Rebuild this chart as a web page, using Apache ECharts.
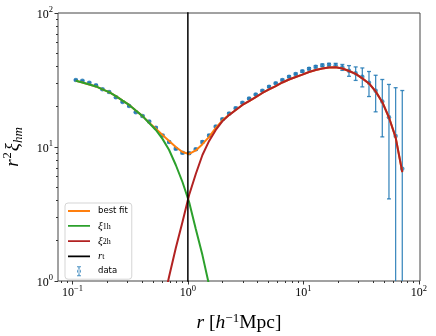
<!DOCTYPE html>
<html>
<head>
<meta charset="utf-8">
<script src="https://cdn.jsdelivr.net/npm/echarts@6/dist/echarts.min.js"></script>
<style>
  html, body { margin: 0; padding: 0; background: #fff; }
  #main { width: 436px; height: 336px; }
</style>
</head>
<body>
<div id="main"></div>
<script>
// bin centres, h^-1 Mpc
var r = [0.107, 0.122, 0.140, 0.160, 0.182, 0.208, 0.238, 0.272, 0.310, 0.354,
         0.405, 0.462, 0.528, 0.603, 0.688, 0.786, 0.898, 1.025, 1.171, 1.337,
         1.528, 1.745, 1.993, 2.276, 2.599, 2.969, 3.390, 3.872, 4.422, 5.050,
         5.768, 6.587, 7.523, 8.592, 9.813, 11.21, 12.80, 14.62, 16.70, 19.07,
         21.78, 24.87, 28.41, 32.44, 37.05, 42.31, 48.33, 55.19, 63.03, 71.99];

// measured r^2 xi_hm and its error
var dataY = [31.6, 31.2, 30.2, 28.9, 27.0, 25.7, 23.5, 21.7, 20.2, 18.2,
             17.0, 15.5, 13.9, 12.2, 10.9, 9.71, 9.06, 8.97, 9.61, 10.9,
             12.2, 14.2, 16.1, 17.8, 19.5, 21.4, 23.0, 24.6, 26.3, 28.2,
             29.9, 31.6, 33.5, 35.1, 36.7, 38.4, 39.7, 40.7, 41.1, 40.7,
             39.3, 37.1, 35.5, 33.5, 30.2, 26.3, 21.9, 16.7, 12.1, 6.89];
var dataErr = [0.3, 0.3, 0.3, 0.3, 0.3, 0.3, 0.3, 0.2, 0.2, 0.2,
               0.2, 0.2, 0.2, 0.2, 0.15, 0.15, 0.15, 0.15, 0.15, 0.2,
               0.2, 0.2, 0.25, 0.25, 0.3, 0.3, 0.3, 0.35, 0.35, 0.4,
               0.4, 0.45, 0.5, 0.5, 0.6, 0.7, 0.8, 0.9, 1.0, 1.4,
               2.0, 3.4, 4.1, 5.4, 6.4, 8.0, 10.0, 12.6, 15.6, 19.5];

// model curves, sampled on the same bins
var bestFit = [31.2, 30.3, 29.3, 28.3, 26.9, 25.7, 24.0, 22.2, 20.6, 18.7,
               17.0, 15.2, 13.7, 12.3, 11.1, 10.0, 9.18, 8.87, 9.42, 10.5,
               11.9, 13.9, 15.8, 17.4, 18.9, 20.6, 22.0, 23.6, 25.3, 26.9,
               28.5, 30.3, 31.9, 33.3, 34.7, 36.3, 37.6, 38.5, 39.2, 39.3,
               38.5, 36.9, 35.1, 32.5, 29.8, 26.0, 21.6, 16.6, 11.8, 6.5];
// one-halo term, bins 0..21
var xi1h = [31.2, 30.3, 29.3, 28.3, 26.9, 25.7, 24.0, 22.2, 20.6, 18.7,
            17.0, 15.1, 13.4, 11.5, 9.5, 7.34, 5.48, 3.89, 2.44, 1.56,
            0.93, 0.5];
// two-halo term, bins 13..49
var xi2hStart = 13;
var xi2h = [0.65, 1.08, 1.76, 2.76, 4.38, 6.29, 8.71, 11.1, 13.4, 15.6,
            17.3, 18.9, 20.6, 22.0, 23.6, 25.3, 26.9, 28.5, 30.3, 31.9,
            33.3, 34.7, 36.3, 37.6, 38.5, 39.2, 39.3, 38.5, 36.9, 35.1,
            32.5, 29.8, 26.0, 21.6, 16.6, 11.8, 6.5];
var rt = 1.0;

var xTicks = [0.1, 1, 10, 100];
var yTicks = [1, 10, 100];
var xMin = 0.075, xMax = 102.5;
var yMin = 1, yMax = 100;

function minorTicks(lo, hi) {
  var out = [];
  for (var d = -3; d <= 3; d++) {
    for (var m = 2; m <= 9; m++) {
      var v = m * Math.pow(10, d);
      if (v > lo && v < hi) out.push(v);
    }
  }
  return out;
}

function pow10Label(v) {
  var e = Math.round(Math.log10(v));
  return '{b|10}{p|' + String(e).replace('-', '\u2212') + '}';
}

var serif = 'Liberation Serif';
var tickRich = {
  b: { fontFamily: serif, fontSize: 12, lineHeight: 15, color: '#000', verticalAlign: 'bottom' },
  p: { fontFamily: serif, fontSize: 8.5, lineHeight: 15, color: '#000', verticalAlign: 'top' }
};

var pts = [], errPts = [], fitPts = [], oneH = [], twoH = [];
for (var i = 0; i < r.length; i++) {
  pts.push([r[i], dataY[i]]);
  errPts.push([r[i], dataY[i], dataErr[i]]);
  fitPts.push([r[i], bestFit[i]]);
}
for (var i = 0; i < xi1h.length; i++) oneH.push([r[i], xi1h[i]]);
for (var i = 0; i < xi2h.length; i++) twoH.push([r[i + xi2hStart], xi2h[i]]);

var errColor = 'rgba(31,119,180,0.85)';
function renderErr(params, api) {
  var x = api.value(0), y = api.value(1), e = api.value(2);
  var cs = params.coordSys;
  var bottom = cs.y + cs.height;
  var top = api.coord([x, y + e]);
  var cx = top[0];
  var low = y - e;
  var yb = low > 0 ? Math.min(api.coord([x, low])[1], bottom) : bottom;
  var st = { stroke: errColor, lineWidth: 1.3 };
  var kids = [
    { type: 'line', shape: { x1: cx, y1: top[1], x2: cx, y2: yb }, style: st },
    { type: 'line', shape: { x1: cx - 2, y1: top[1], x2: cx + 2, y2: top[1] }, style: st }
  ];
  if (low > 0 && yb < bottom) {
    kids.push({ type: 'line', shape: { x1: cx - 2, y1: yb, x2: cx + 2, y2: yb }, style: st });
  }
  return { type: 'group', children: kids };
}

var lineIcon = 'path://M0,0h0.01v0.01h-0.01zM0,4.1h22v1.8h-22zM21.99,9.99h0.01v0.01h-0.01z';
var errIcon = 'path://M0,0h0.01v0.01h-0.01zM10.4,0h1.2v10h-1.2zM9,0h4v1h-4zM9,9h4v1h-4z' +
              'M9,5a2,2 0 1 0 4,0a2,2 0 1 0 -4,0zM21.99,9.99h0.01v0.01h-0.01z';
var legendText = {
  'best fit': 'best fit',
  'xi1h': '{m|\u03be}{s|1h}',
  'xi2h': '{m|\u03be}{s|2h}',
  'rt': '{m|r}{s|t}',
  'data': 'data'
};

var myChart = echarts.init(document.getElementById('main'));
var option = {
  animation: false,
  backgroundColor: '#fff',
  grid: {
    left: 58, right: 16, top: 13, bottom: 55, show: true,
    borderColor: '#444', borderWidth: 1, outerBoundsMode: 'none', containLabel: false
  },
  legend: {
    orient: 'vertical', left: 65, top: 203,
    itemWidth: 22, itemHeight: 10, itemGap: 4.3,
    padding: [3, 4, 3, 3],
    borderColor: '#d5d5d5', borderWidth: 1, borderRadius: 3,
    backgroundColor: 'rgba(255,255,255,0.8)',
    selectedMode: false,
    textStyle: {
      fontFamily: 'DejaVu Sans', fontSize: 8.5, color: '#000', lineHeight: 10, padding: [0, 0, 0, 3],
      rich: {
        m: { fontFamily: serif, fontStyle: 'italic', fontSize: 11, lineHeight: 10, color: '#000' },
        s: { fontFamily: serif, fontSize: 8, lineHeight: 10, color: '#000', verticalAlign: 'bottom' }
      }
    },
    formatter: function (name) { return legendText[name]; },
    data: [
      { name: 'best fit', icon: lineIcon },
      { name: 'xi1h', icon: lineIcon },
      { name: 'xi2h', icon: lineIcon },
      { name: 'rt', icon: lineIcon },
      { name: 'data', icon: errIcon }
    ]
  },
  xAxis: [{
    type: 'log', logBase: 10, min: xMin, max: xMax, position: 'bottom',
    axisLine: { show: false },
    splitLine: { show: false },
    axisTick: { customValues: xTicks, length: 3.5, lineStyle: { color: '#333' } },
    axisLabel: { customValues: xTicks, margin: 3, formatter: pow10Label, rich: tickRich },
    name: '{i|r} [{i|h}{p|\u22121}Mpc]',
    nameLocation: 'middle', nameGap: 31,
    nameTextStyle: {
      fontFamily: serif, fontSize: 19.5, color: '#000', lineHeight: 22,
      rich: {
        i: { fontFamily: serif, fontStyle: 'italic', fontSize: 19.5, lineHeight: 22, color: '#000' },
        p: { fontFamily: serif, fontSize: 13, lineHeight: 22, color: '#000', verticalAlign: 'top' }
      }
    }
  }, {
    type: 'log', logBase: 10, min: xMin, max: xMax, position: 'bottom',
    axisLine: { show: false },
    splitLine: { show: false },
    axisTick: { customValues: minorTicks(xMin, xMax), length: 2, lineStyle: { color: '#333' } },
    axisLabel: { show: false }
  }],
  yAxis: [{
    type: 'log', logBase: 10, min: yMin, max: yMax, position: 'left',
    axisLine: { show: false },
    splitLine: { show: false },
    axisTick: { customValues: yTicks, length: 3.5, lineStyle: { color: '#333' } },
    axisLabel: { customValues: yTicks, margin: 5, formatter: pow10Label, rich: tickRich },
    name: '{i|r}{p|2}{i|\u03be}{s|hm}',
    nameLocation: 'middle', nameGap: 33, nameRotate: 90,
    nameTextStyle: {
      fontFamily: serif, fontSize: 19, color: '#000', lineHeight: 24,
      rich: {
        i: { fontFamily: serif, fontStyle: 'italic', fontSize: 19, lineHeight: 24, color: '#000' },
        p: { fontFamily: serif, fontSize: 12.5, lineHeight: 24, color: '#000', verticalAlign: 'top', padding: [0, 1, 0, 1] },
        s: { fontFamily: serif, fontStyle: 'italic', fontSize: 13, lineHeight: 24, color: '#000', verticalAlign: 'bottom' }
      }
    }
  }, {
    type: 'log', logBase: 10, min: yMin, max: yMax, position: 'left',
    axisLine: { show: false },
    splitLine: { show: false },
    axisTick: { customValues: minorTicks(yMin, yMax), length: 2, lineStyle: { color: '#333' } },
    axisLabel: { show: false }
  }],
  series: [
    {
      name: 'dataerr', type: 'custom', renderItem: renderErr, data: errPts,
      encode: { x: 0, y: 1 }, clip: true, z: 1, silent: true
    },
    {
      name: 'data', type: 'scatter', data: pts, symbolSize: 4.5,
      color: '#1f77b4', itemStyle: { color: '#1f77b4' }, z: 2
    },
    {
      name: 'best fit', type: 'line', data: fitPts, showSymbol: false, symbol: 'none',
      color: '#ff7f0e', lineStyle: { color: '#ff7f0e', width: 2 }, z: 3
    },
    {
      name: 'xi1h', type: 'line', data: oneH, showSymbol: false, symbol: 'none',
      color: '#2ca02c', lineStyle: { color: '#2ca02c', width: 2 }, z: 4
    },
    {
      name: 'xi2h', type: 'line', data: twoH, showSymbol: false, symbol: 'none',
      color: '#b22222', lineStyle: { color: '#b22222', width: 2 }, z: 5
    },
    {
      name: 'rt', type: 'line', data: [[rt, 0.5], [rt, 200]], showSymbol: false, symbol: 'none',
      color: '#000', lineStyle: { color: '#000', width: 1.5 }, z: 6
    }
  ]
};
myChart.setOption(option);
</script>
</body>
</html>
